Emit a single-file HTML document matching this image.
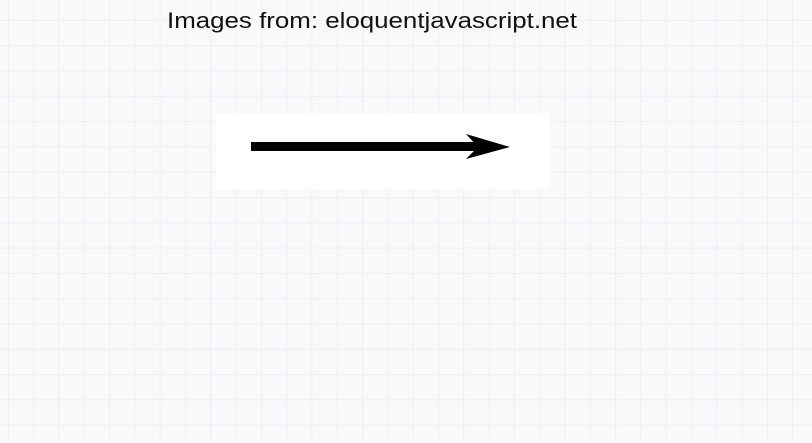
<!DOCTYPE html>
<html><head><meta charset="utf-8"><style>
html,body{margin:0;padding:0;width:812px;height:443px;overflow:hidden;background:#f9f8fb;}
</style></head><body>
<svg width="812" height="443" xmlns="http://www.w3.org/2000/svg">
<defs><pattern id="g" x="8" y="20" width="25.3" height="25.3" patternUnits="userSpaceOnUse">
<path d="M0 0V25.3M0 0H25.3" stroke="#ebeaf0" stroke-width="1.2" fill="none"/></pattern></defs>
<rect width="812" height="443" fill="url(#g)"/>
<text x="167" y="28" font-family="Liberation Sans, sans-serif" font-size="22" fill="#111" textLength="410" lengthAdjust="spacingAndGlyphs">Images from: eloquentjavascript.net</text>
<rect x="216" y="113" width="334" height="76" fill="#fff"/>
<g>
<rect x="251" y="142" width="230" height="9" fill="#000"/>
<path d="M466 134 L510 147 L466 159 L478 147 Z" fill="#000"/>
</g>
</svg>
</body></html>
